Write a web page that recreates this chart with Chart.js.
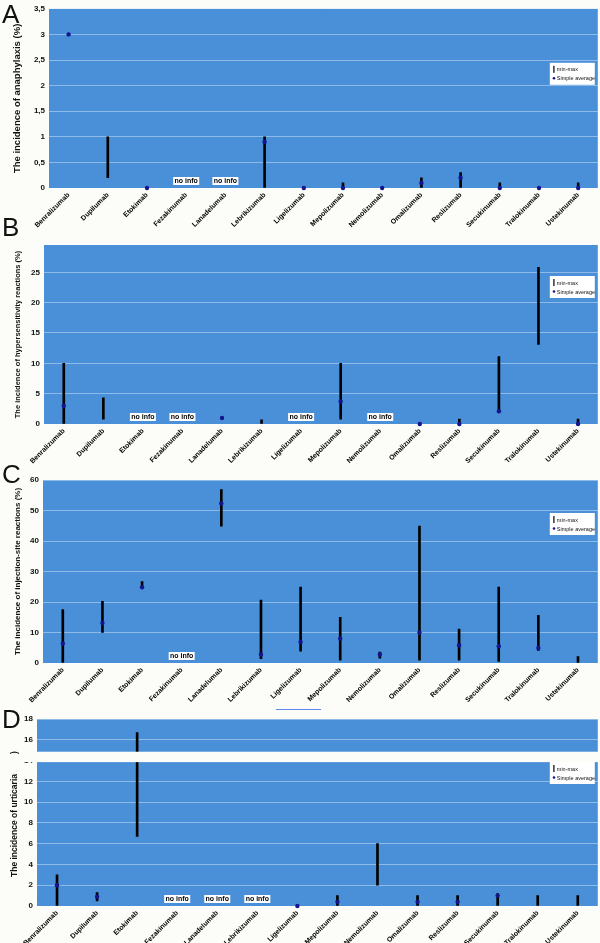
<!DOCTYPE html>
<html>
<head>
<meta charset="utf-8">
<title>Incidence of reactions</title>
<script src="https://cdn.jsdelivr.net/npm/chart.js@4.4.1/dist/chart.umd.min.js"></script>
<style>
    body { margin: 0; background: #fcfcf8; }
    #wrap { position: relative; width: 600px; height: 943px; overflow: hidden; font-family: "Liberation Sans", Arial, sans-serif; }
    #wrap canvas { position: absolute; left: 0; }
    .letter { position: absolute; left: 2px; font-size: 26px; line-height: 26px; color: #111; }
    .stray { position: absolute; left: 276px; top: 709px; width: 45px; height: 1px; background: #5f86e8; }
</style>
</head>
<body>
<div id="wrap">
    <canvas id="chartA" width="600" height="232" style="top:0px"></canvas>
    <canvas id="chartB" width="600" height="232" style="top:232px"></canvas>
    <canvas id="chartC" width="600" height="240" style="top:464px"></canvas>
    <canvas id="chartD" width="600" height="239" style="top:704px"></canvas>
    <div class="letter" style="top:1px">A</div>
    <div class="letter" style="top:214px">B</div>
    <div class="letter" style="top:461px">C</div>
    <div class="letter" style="top:706px">D</div>
    <div class="stray"></div>
</div>
<script>
const drugs = ['Benralizumab', 'Dupilumab', 'Etokimab', 'Fezakinumab', 'Lanadelumab', 'Lebrikizumab', 'Ligelizumab',
    'Mepolizumab', 'Nemolizumab', 'Omalizumab', 'Reslizumab', 'Secukinumab', 'Tralokinumab', 'Ustekinumab'];

// A - anaphylaxis (%)
const anaMin = [null, 0.2, null, null, null, 0, null, 0, null, 0, 0, 0, null, 0];
const anaMax = [null, 1.0, null, null, null, 1.0, null, 0.1, null, 0.2, 0.3, 0.1, null, 0.1];
const anaAvg = [3, null, 0, null, null, 0.9, 0, 0, 0, 0.1, 0.2, 0, 0, 0];
const anaNoInfo = ['Fezakinumab', 'Lanadelumab'];

// B - hypersensitivity reactions (%)
const hypMin = [0, 0.8, null, null, null, 0, null, 0.8, null, null, 0, 2.1, 13.1, 0];
const hypMax = [10, 4.3, null, null, null, 0.7, null, 10, null, null, 0.8, 11.1, 25.8, 0.8];
const hypAvg = [3.0, null, null, null, 1.0, null, null, 3.7, null, 0, 0, 2.1, null, 0];
const hypNoInfo = ['Etokimab', 'Fezakinumab', 'Ligelizumab', 'Nemolizumab'];

// C - injection-site reactions (%)
const injMin = [0, 10, 25, null, 44.9, 1.4, 3.9, 0.9, 1.6, 0.9, 0.9, 0.5, 4.1, 0];
const injMax = [17.5, 20.2, 26.7, null, 56.9, 20.6, 24.9, 15, 3.6, 44.9, 11.1, 24.9, 15.6, 2.1];
const injAvg = [6.4, 13.1, 24.8, null, 52.3, 2.8, 6.9, 8.0, 2.8, 10.0, 5.8, 5.5, 4.9, null];
const injNoInfo = ['Fezakinumab'];

// D - urticaria (%)
const urtMin = [0, 0.5, 6.7, null, null, null, null, 0, 2, 0, 0, 0, 0, 0];
const urtMax = [3, 1.3, 16.7, null, null, null, null, 1, 6, 1, 1, 1.2, 1, 1];
const urtAvg = [2, 0.9, null, null, null, null, 0, 0.4, null, 0.4, 0.4, 1.0, null, null];
const urtNoInfo = ['Fezakinumab', 'Lanadelumab', 'Lebrikizumab'];

const plotBlue = '#4a90d9';
const dotBlue = '#14148c';
const pageBg = '#fcfcf8';
const fontFamily = '"Liberation Sans", Arial, sans-serif';

// draws plot background, "no info" boxes, the axis break band and the small legend
const panelExtras = {
    id: 'panelExtras',
    beforeDraw(chart) {
        const a = chart.chartArea;
        const ctx = chart.ctx;
        ctx.save();
        ctx.fillStyle = plotBlue;
        ctx.fillRect(a.left, a.top, a.right - a.left, a.bottom - a.top);
        ctx.restore();
    },
    afterDatasetsDraw(chart, args, opts) {
        const a = chart.chartArea;
        const ctx = chart.ctx;
        const x = chart.scales.x;
        const y = chart.scales.y;
        ctx.save();

        ctx.font = 'bold 7px ' + fontFamily;
        ctx.textAlign = 'center';
        ctx.textBaseline = 'middle';
        (opts.noInfo || []).forEach(name => {
            const cx = x.getPixelForValue(drugs.indexOf(name));
            const cy = a.bottom - 7;
            ctx.fillStyle = '#fff';
            ctx.fillRect(cx - 13, cy - 4, 26, 8);
            ctx.fillStyle = '#000';
            ctx.fillText('no info', cx, cy + 0.5);
        });

        if (opts.band) {
            const top = y.getPixelForValue(opts.band[1]);
            const bottom = y.getPixelForValue(opts.band[0]);
            ctx.fillStyle = pageBg;
            ctx.fillRect(12, top, chart.width - 12, bottom - top);
        }

        // hand placed axis title (panel D, where the break cuts it)
        if (opts.sideTitle) {
            const t = opts.sideTitle;
            ctx.fillStyle = '#111';
            ctx.font = 'bold ' + t.size + 'px ' + fontFamily;
            ctx.textAlign = 'left';
            ctx.textBaseline = 'middle';
            ctx.save();
            ctx.translate(t.x, t.y);
            ctx.rotate(-Math.PI / 2);
            ctx.fillText(t.text, 0, 0);
            ctx.restore();
            ctx.save();
            ctx.translate(t.x, t.tailY);
            ctx.rotate(-Math.PI / 2);
            ctx.fillText(t.tail, 0, 0);
            ctx.restore();
        }

        const w = 45, h = 22;
        const lx = a.right - 3 - w;
        const ly = a.top + opts.legendTop;
        ctx.fillStyle = '#fff';
        ctx.fillRect(lx, ly, w, h);
        ctx.fillStyle = '#000';
        ctx.fillRect(lx + 3.5, ly + 3, 1.2, 7);
        ctx.fillStyle = dotBlue;
        ctx.beginPath();
        ctx.arc(lx + 4.2, ly + 15.5, 1.3, 0, Math.PI * 2);
        ctx.fill();
        ctx.fillStyle = '#111';
        ctx.font = '5.5px ' + fontFamily;
        ctx.textAlign = 'left';
        ctx.textBaseline = 'middle';
        ctx.fillText('min-max', lx + 7, ly + 7);
        ctx.fillText('Simple average', lx + 7, ly + 16);
        ctx.restore();
    }
};

function makePanel(id, p) {
    const ranges = drugs.map((d, i) => p.min[i] == null ? null : [p.min[i], p.max[i]]);
    const config = {
        type: 'bar',
        data: {
            labels: drugs,
            datasets: [
                {
                    label: 'min-max',
                    data: ranges,
                    backgroundColor: '#000',
                    barThickness: 2,
                    grouped: false,
                    order: 2
                },
                {
                    type: 'line',
                    label: 'Simple average',
                    data: p.avg,
                    showLine: false,
                    pointRadius: 2.2,
                    pointHoverRadius: 2.2,
                    pointBackgroundColor: dotBlue,
                    pointBorderWidth: 0,
                    clip: 5,
                    order: 1
                }
            ]
        },
        options: {
            responsive: false,
            animation: false,
            events: [],
            layout: { padding: { top: p.top, right: 2, left: 0, bottom: 0 } },
            plugins: {
                legend: { display: false },
                tooltip: { enabled: false },
                panelExtras: { noInfo: p.noInfo, legendTop: p.legendTop, band: p.band, sideTitle: p.sideTitle }
            },
            scales: {
                x: {
                    grid: { display: false, drawTicks: false },
                    border: { display: false },
                    ticks: {
                        autoSkip: false,
                        minRotation: 45,
                        maxRotation: 45,
                        padding: 3,
                        color: '#000',
                        font: { family: fontFamily, size: 7, weight: 'bold' }
                    },
                    afterFit: scale => { scale.height = p.xHeight; }
                },
                y: {
                    min: 0,
                    max: p.yMax,
                    grid: { color: 'rgba(255,255,255,0.38)', drawTicks: false },
                    border: { display: false },
                    ticks: {
                        stepSize: p.step,
                        padding: 4,
                        color: '#111',
                        font: { family: fontFamily, size: 8, weight: 'bold' },
                        callback: v => String(v).replace('.', ',')
                    },
                    afterBuildTicks: scale => {
                        scale.ticks = scale.ticks.filter(t => Math.abs(t.value / p.step - Math.round(t.value / p.step)) < 1e-6);
                    },
                    title: {
                        display: !!p.title,
                        text: p.title || '',
                        color: '#111',
                        padding: { top: p.titlePad || 0, bottom: 0 },
                        font: { family: fontFamily, size: p.titleSize || 8, weight: 'bold' }
                    },
                    afterFit: scale => { scale.width = p.yWidth; }
                }
            }
        },
        plugins: [panelExtras]
    };
    return new Chart(document.getElementById(id), config);
}

makePanel('chartA', {
    min: anaMin, max: anaMax, avg: anaAvg, noInfo: anaNoInfo,
    yMax: 3.5, step: 0.5, title: 'The incidence of anaphylaxis (%)', titleSize: 9.5, titlePad: 12,
    top: 7, xHeight: 44, yWidth: 49, legendTop: 54
});

makePanel('chartB', {
    min: hypMin, max: hypMax, avg: hypAvg, noInfo: hypNoInfo,
    yMax: 29.5, step: 5, title: 'The incidence of hypersensitivity reactions (%)', titleSize: 7.5, titlePad: 13,
    top: 13, xHeight: 40, yWidth: 44, legendTop: 31
});

makePanel('chartC', {
    min: injMin, max: injMax, avg: injAvg, noInfo: injNoInfo,
    yMax: 60, step: 10, title: 'The incidence of injection-site reactions (%)', titleSize: 8, titlePad: 12.5,
    top: 16, xHeight: 41, yWidth: 43, legendTop: 33
});

makePanel('chartD', {
    min: urtMin, max: urtMax, avg: urtAvg, noInfo: urtNoInfo,
    yMax: 18, step: 2,
    sideTitle: { text: 'The incidence of urticaria', tail: ')', size: 8.5, x: 15, y: 173, tailY: 50 },
    top: 15, xHeight: 37, yWidth: 37, legendTop: 43, band: [13.85, 14.85]
});
</script>
</body>
</html>
